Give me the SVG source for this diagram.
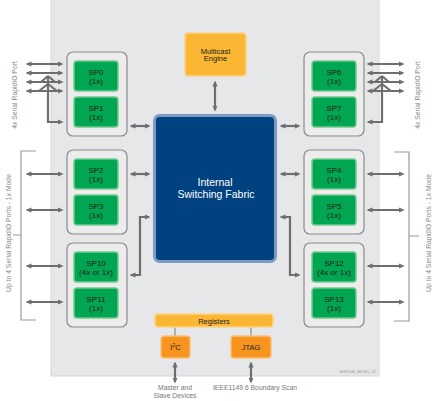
<svg xmlns="http://www.w3.org/2000/svg" width="432" height="401" viewBox="0 0 432 401">
<style>
text{font-family:"Liberation Sans",Arial,sans-serif}
.grp{fill:#ececed;stroke:#8a8a8c;stroke-width:1.2}
.sp{fill:#00a651;stroke:#72c98f;stroke-width:1.5}
.spt{font-size:8px;fill:#1a1a1a;text-anchor:middle}
.yel{fill:#fbb634;stroke:#fdd588;stroke-width:1.5}
.org{fill:#f7941d;stroke:#fbbf7a;stroke-width:1.5}
.dt{font-size:7.5px;fill:#222;text-anchor:middle}
.side{font-size:6.8px;fill:#8a8a8a;text-anchor:middle}
.bt{font-size:6.8px;fill:#777;text-anchor:middle}
.ar{fill:none;stroke:#6d6e71;stroke-width:2.2;marker-start:url(#ah);marker-end:url(#ah)}
.ar1{fill:none;stroke:#6d6e71;stroke-width:2.2;marker-end:url(#ah)}
.ln{fill:none;stroke:#6d6e71;stroke-width:2.2}
.br{fill:none;stroke:#999;stroke-width:1.2}
.thin{fill:none;stroke:#777;stroke-width:1}
</style>
<defs>
<marker id="ah" markerUnits="userSpaceOnUse" markerWidth="6" markerHeight="6" viewBox="0 0 6 6" refX="4.5" refY="3" orient="auto-start-reverse">
<path d="M0,0.4 L6,3 L0,5.6 z" fill="#6d6e71"/>
</marker>
</defs>
<rect id="panel" x="51" y="-1" width="328" height="377" fill="#e6e7e8" stroke="#d6d6d6" stroke-width="1"/>
<text x="376" y="373" font-size="4" fill="#999" text-anchor="end">8085044_BK001_02</text>

<g id="side-labels">
<text class="side" transform="translate(16.5,95) rotate(-90)">4x Serial RapidIO Port</text>
<text class="side" transform="translate(419.5,95) rotate(-90)">4x Serial RapidIO Port</text>
<text class="side" transform="translate(10.5,233) rotate(-90)">Up to 4 Serial RapidIO Ports - 1x Mode</text>
<text class="side" transform="translate(430.5,233) rotate(-90)">Up to 4 Serial RapidIO Ports - 1x Mode</text>
<path class="br" d="M36,151 H21 V320 H36 M13,235 H21"/>
<path class="br" d="M394,152 H409 V321 H394 M409,236 H419"/>
</g>

<g id="connectors">
<path class="ar" d="M27,64 H62"/>
<path class="ar" d="M27,73 H62"/>
<path class="ar" d="M27,82 H62"/>
<path class="ar" d="M27,91 H62"/>
<path class="ar1" d="M48,76 V122 H62"/>
<path class="ln" d="M48,76 L41,82 M48,76 L55,82 M48,84 L39,91 M48,84 L57,91"/>
<path class="ar" d="M403,64 H368"/>
<path class="ar" d="M403,73 H368"/>
<path class="ar" d="M403,82 H368"/>
<path class="ar" d="M403,91 H368"/>
<path class="ar1" d="M382,76 V122 H368"/>
<path class="ln" d="M382,76 L389,82 M382,76 L375,82 M382,84 L391,91 M382,84 L373,91"/>
<path class="ar" d="M27,174 H62"/>
<path class="ar" d="M27,210 H62"/>
<path class="ar" d="M27,266 H62"/>
<path class="ar" d="M27,302 H62"/>
<path class="ar" d="M403,174 H368"/>
<path class="ar" d="M403,210 H368"/>
<path class="ar" d="M403,266 H368"/>
<path class="ar" d="M403,302 H368"/>
<path class="ar" d="M131,126 H149"/>
<path class="ar" d="M131,174 H149"/>
<path class="ar" d="M149,217 H140 V275 H131"/>
<path class="ar" d="M299,126 H281"/>
<path class="ar" d="M299,174 H281"/>
<path class="ar" d="M281,217 H290 V275 H299"/>
<path class="ar" d="M215,82 V110"/>
<path class="ar" d="M175,363 V382"/>
<path class="ar" d="M251,363 V382"/>
<path class="thin" d="M175,327 V336 M251,327 V336"/>
</g>

<g id="multicast">
<rect class="yel" x="185" y="33" width="61" height="43" rx="3"/>
<text class="dt" x="215.5" y="53.5">Multicast</text>
<text class="dt" x="215.5" y="61">Engine</text>
</g>

<g id="fabric">
<rect x="154.5" y="115.5" width="121" height="146" rx="5" fill="#00427f" stroke="#7c9cc7" stroke-width="3"/>
<text x="215" y="186" font-size="10.5" fill="#fff" text-anchor="middle">Internal</text>
<text x="216" y="198" font-size="10.5" fill="#fff" text-anchor="middle">Switching Fabric</text>
</g>

<g id="group-sp0-sp1">
<rect class="grp" x="67" y="52" width="60" height="84" rx="6"/>
<g id="sp0"><rect class="sp" x="74" y="61" width="44" height="30" rx="3"/><text class="spt" x="96" y="75">SP0</text><text class="spt" x="96" y="83.5">(1x)</text></g>
<g id="sp1"><rect class="sp" x="74" y="97" width="44" height="30" rx="3"/><text class="spt" x="96" y="111">SP1</text><text class="spt" x="96" y="119.5">(1x)</text></g>
</g>
<g id="group-sp2-sp3">
<rect class="grp" x="67" y="150" width="60" height="84" rx="6"/>
<g id="sp2"><rect class="sp" x="74" y="159" width="44" height="30" rx="3"/><text class="spt" x="96" y="173">SP2</text><text class="spt" x="96" y="181.5">(1x)</text></g>
<g id="sp3"><rect class="sp" x="74" y="195" width="44" height="30" rx="3"/><text class="spt" x="96" y="209">SP3</text><text class="spt" x="96" y="217.5">(1x)</text></g>
</g>
<g id="group-sp10-sp11">
<rect class="grp" x="67" y="243" width="60" height="84" rx="6"/>
<g id="sp10"><rect class="sp" x="74" y="252" width="44" height="30" rx="3"/><text class="spt" x="96" y="266">SP10</text><text class="spt" x="96" y="274.5">(4x or 1x)</text></g>
<g id="sp11"><rect class="sp" x="74" y="288" width="44" height="30" rx="3"/><text class="spt" x="96" y="302">SP11</text><text class="spt" x="96" y="310.5">(1x)</text></g>
</g>
<g id="group-sp6-sp7">
<rect class="grp" x="304" y="52" width="60" height="84" rx="6"/>
<g id="sp6"><rect class="sp" x="312" y="61" width="44" height="30" rx="3"/><text class="spt" x="334" y="75">SP6</text><text class="spt" x="334" y="83.5">(1x)</text></g>
<g id="sp7"><rect class="sp" x="312" y="97" width="44" height="30" rx="3"/><text class="spt" x="334" y="111">SP7</text><text class="spt" x="334" y="119.5">(1x)</text></g>
</g>
<g id="group-sp4-sp5">
<rect class="grp" x="304" y="150" width="60" height="84" rx="6"/>
<g id="sp4"><rect class="sp" x="312" y="159" width="44" height="30" rx="3"/><text class="spt" x="334" y="173">SP4</text><text class="spt" x="334" y="181.5">(1x)</text></g>
<g id="sp5"><rect class="sp" x="312" y="195" width="44" height="30" rx="3"/><text class="spt" x="334" y="209">SP5</text><text class="spt" x="334" y="217.5">(1x)</text></g>
</g>
<g id="group-sp12-sp13">
<rect class="grp" x="304" y="243" width="60" height="84" rx="6"/>
<g id="sp12"><rect class="sp" x="312" y="252" width="44" height="30" rx="3"/><text class="spt" x="334" y="266">SP12</text><text class="spt" x="334" y="274.5">(4x or 1x)</text></g>
<g id="sp13"><rect class="sp" x="312" y="288" width="44" height="30" rx="3"/><text class="spt" x="334" y="302">SP13</text><text class="spt" x="334" y="310.5">(1x)</text></g>
</g>

<g id="registers">
<rect class="yel" x="155" y="314" width="118" height="13" rx="3"/>
<text class="dt" x="214" y="323.5">Registers</text>
</g>
<g id="i2c">
<rect class="org" x="161" y="336" width="29" height="22" rx="3"/>
<text class="dt" x="175.5" y="350">I<tspan font-size="5" dy="-3">2</tspan><tspan dy="3">C</tspan></text>
</g>
<g id="jtag">
<rect class="org" x="231" y="336" width="40" height="22" rx="3"/>
<text class="dt" x="251" y="350">JTAG</text>
</g>
<g id="bottom-labels">
<text class="bt" x="175" y="390">Master and</text>
<text class="bt" x="175" y="398">Slave Devices</text>
<text class="bt" x="255" y="390">IEEE1149.6 Boundary Scan</text>
</g>
</svg>
